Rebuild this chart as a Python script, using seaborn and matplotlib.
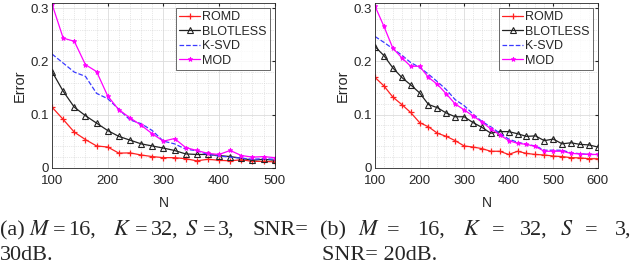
import seaborn as sns
import matplotlib.pyplot as plt
from matplotlib.ticker import MultipleLocator

sns.set_style("whitegrid")
plt.rcParams['font.family'] = ['Liberation Sans', 'DejaVu Sans']
plt.rcParams['mathtext.fontset'] = 'stix'

# ---- data ----
n_a = list(range(100, 501, 20))
romd_a = [0.114, 0.091, 0.067, 0.053, 0.041, 0.039, 0.0275, 0.028, 0.024, 0.021, 0.019,
          0.019, 0.017, 0.013, 0.016, 0.014, 0.013, 0.015, 0.012, 0.012, 0.011]
blotless_a = [0.181, 0.144, 0.114, 0.098, 0.084, 0.070, 0.059, 0.052, 0.045, 0.041, 0.037,
              0.0325, 0.026, 0.025, 0.025, 0.023, 0.021, 0.018, 0.014, 0.016, 0.014]
ksvd_a = [0.214, 0.197, 0.180, 0.172, 0.140, 0.130, 0.110, 0.090, 0.083, 0.070, 0.050,
          0.045, 0.035, 0.032, 0.025, 0.022, 0.020, 0.018, 0.016, 0.017, 0.016]
mod_a = [0.308, 0.244, 0.238, 0.194, 0.181, 0.135, 0.109, 0.094, 0.080, 0.064, 0.050,
         0.055, 0.038, 0.0325, 0.027, 0.025, 0.0325, 0.023, 0.020, 0.021, 0.019]

n_b = list(range(100, 601, 20))
romd_b = [0.170, 0.154, 0.133, 0.119, 0.104, 0.085, 0.077, 0.065, 0.059, 0.051, 0.041,
          0.039, 0.036, 0.031, 0.031, 0.025, 0.031, 0.027, 0.025, 0.024, 0.022, 0.021,
          0.019, 0.0185, 0.017, 0.017]
blotless_b = [0.228, 0.211, 0.188, 0.170, 0.156, 0.141, 0.119, 0.113, 0.103, 0.096, 0.096,
              0.085, 0.076, 0.065, 0.068, 0.068, 0.064, 0.059, 0.060, 0.051, 0.054, 0.045,
              0.047, 0.044, 0.043, 0.039]
ksvd_b = [0.247, 0.236, 0.224, 0.212, 0.198, 0.189, 0.176, 0.162, 0.147, 0.128, 0.117,
          0.101, 0.087, 0.077, 0.065, 0.054, 0.048, 0.044, 0.041, 0.033, 0.033, 0.033,
          0.028, 0.0265, 0.025, 0.025]
mod_b = [0.304, 0.266, 0.225, 0.207, 0.191, 0.191, 0.170, 0.157, 0.139, 0.120, 0.109,
         0.0975, 0.086, 0.073, 0.062, 0.051, 0.046, 0.044, 0.040, 0.031, 0.031, 0.031,
         0.027, 0.026, 0.025, 0.025]

labels = ["ROMD", "BLOTLESS", "K-SVD", "MOD"]
styles = [
    dict(color="#ff2020", mec="#ff2020", marker="+", markersize=5, linestyle="-", mew=0.9),
    dict(color="#222222", mec="#222222", marker="^", markersize=4.5, linestyle="-",
         mfc="none", mew=0.8),
    dict(color="#3a3aff", marker="None", linestyle="--"),
    dict(color="#ff00ff", mec="#ff00ff", marker="*", markersize=3.5, linestyle="-", mew=0.6),
]

fig = plt.figure(figsize=(6.4, 2.65), dpi=100)
ax_a = fig.add_axes([0.0813, 0.367, 0.348, 0.6215])
ax_b = fig.add_axes([0.586, 0.367, 0.348, 0.6215])

panels = [
    (ax_a, n_a, [romd_a, blotless_a, ksvd_a, mod_a], (100, 500)),
    (ax_b, n_b, [romd_b, blotless_b, ksvd_b, mod_b], (100, 600)),
]

for ax, n, series, xl in panels:
    handles = []
    for lab, vals, st in zip(labels, series, styles):
        sns.lineplot(x=n, y=vals, ax=ax, lw=0.9, legend=False)
        line = ax.lines[-1]
        line.set(**st)
        line.set_label(lab)
        handles.append(line)
    ax.set_xlim(*xl)
    ax.set_ylim(0, 0.31)
    ax.set_yticks([0, 0.1, 0.2, 0.3])
    ax.set_yticklabels(["0", "0.1", "0.2", "0.3"])
    ax.xaxis.set_major_locator(MultipleLocator(100))
    ax.xaxis.set_minor_locator(MultipleLocator(20))
    ax.yaxis.set_minor_locator(MultipleLocator(0.02))
    ax.grid(which="major", color="#dcdcdc", lw=0.6, ls="-")
    ax.grid(which="minor", color="#d0d0d0", lw=0.5, ls=":")
    ax.tick_params(which="both", direction="in", labelsize=9.5, length=2.5,
                   top=True, right=True, colors="#262626")
    ax.tick_params(axis="x", pad=5)
    ax.tick_params(axis="y", pad=2)
    ax.tick_params(which="minor", length=0)
    for sp in ax.spines.values():
        sp.set_color("#262626")
        sp.set_linewidth(0.6)
    ax.set_xlabel("N", fontsize=10, labelpad=7)
    ax.set_ylabel("Error", fontsize=10.5, labelpad=3)
    leg = ax.legend(handles=handles, loc="upper right", fontsize=9, frameon=True,
                    fancybox=False, borderpad=0.25, labelspacing=0.2, handlelength=1.7,
                    handletextpad=0.15, borderaxespad=0.4)
    leg.get_frame().set_edgecolor("#262626")
    leg.get_frame().set_linewidth(0.6)

cap = dict(fontsize=16, family="Liberation Serif", va="baseline", ha="left")
y1 = 1 - 235 / 265
y2 = 1 - 260 / 265
words_a = [(0, "(a)"), (29, r"$M$"), (53, "="), (68, "16,"), (113, r"$K$"), (135, "="),
           (151, "32,"), (185, r"$S$"), (203, "="), (218, "3,"), (253, "SNR=")]
for px, w in words_a:
    fig.text(px / 640, y1, w, **cap)
fig.text(0.0, y2, "30dB.", **cap)
words_b = [(320, "(b)"), (358, r"$M$"), (387, "="), (417, "16,"), (463, r"$K$"), (492, "="),
           (520, "32,"), (560, r"$S$"), (585, "="), (615, "3,")]
for px, w in words_b:
    fig.text(px / 640, y1, w, **cap)
fig.text(322 / 640, y2, "SNR= 20dB.", **cap)

fig.savefig("out.png", dpi=100)
plt.close(fig)
